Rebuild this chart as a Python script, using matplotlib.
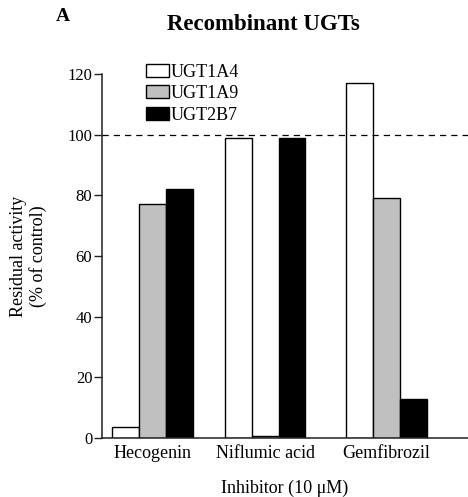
import numpy as np
import matplotlib
matplotlib.use('Agg')
import matplotlib.pyplot as plt

plt.rcParams['font.family'] = 'Liberation Serif'

inhibitors = ['Hecogenin', 'Niflumic acid', 'Gemfibrozil']
enzymes = ['UGT1A4', 'UGT1A9', 'UGT2B7']
ugt1a4 = [3.5, 99, 117]
ugt1a9 = [77, 0.7, 79]
ugt2b7 = [82, 99, 13]
colors = ['white', '#c0c0c0', 'black']

fig = plt.figure(figsize=(4.68, 4.97), dpi=100)
ax = fig.add_axes([0.218, 0.1187, 0.782, 0.7324])

# group centres (slightly uneven spacing, as drawn)
xpos = np.array([0.0, 0.94, 1.95])
w = 0.223
for i, (vals, col, name) in enumerate(zip([ugt1a4, ugt1a9, ugt2b7], colors, enzymes)):
    ax.bar(xpos + (i - 1) * w, vals, w, color=col, edgecolor='black',
           linewidth=1.0, label=name)

ax.axhline(100, color='black', lw=0.9, ls=(0, (5, 4)))

ax.set_xlim(-0.421, 2.629)
ax.set_ylim(0, 120)
ax.set_yticks(range(0, 121, 20))
ax.set_xticks(xpos)
ax.set_xticklabels(inhibitors, fontsize=13)
ax.tick_params(axis='x', length=0, pad=5)
ax.tick_params(axis='y', length=6, width=1, labelsize=12, pad=1, color='#222222')
for s in ['top', 'right']:
    ax.spines[s].set_visible(False)
ax.spines['left'].set_color('#222222')
ax.spines['bottom'].set_color('#222222')
ax.spines['left'].set_linewidth(1.1)
ax.spines['bottom'].set_linewidth(1.1)

ax.set_ylabel('Residual activity\n(% of control)', fontsize=13, labelpad=15, linespacing=1.1)
ax.set_xlabel('Inhibitor (10 \u03bcM)', fontsize=13, labelpad=13)

fig.text(0.5625, 0.951, 'Recombinant UGTs', fontsize=16.5, fontweight='bold',
         ha='center', va='center')
fig.text(0.12, 0.967, 'A', fontsize=14, fontweight='bold', ha='left', va='center')

fig.legend(loc='upper left', bbox_to_anchor=(0.312, 0.872), frameon=False,
           fontsize=13, handlelength=1.28, handleheight=0.7, handletextpad=0.1,
           labelspacing=0.25, borderpad=0, borderaxespad=0)

fig.savefig('out.png', dpi=100)
